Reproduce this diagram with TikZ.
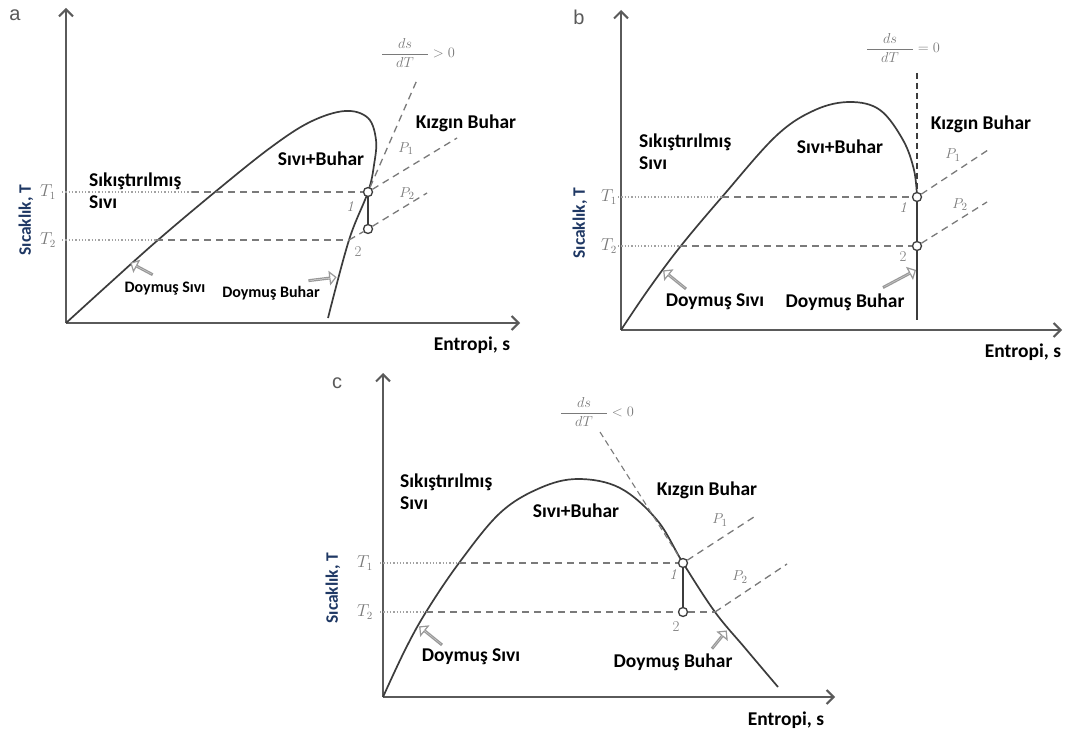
\documentclass[tikz,border=0pt]{standalone}
\usepackage{amsmath}
\usepackage{fontspec}
\usepackage{tikz}
\usetikzlibrary{positioning, arrows.meta, shapes.arrows}
\newfontfamily\labfont{Carlito}
\newfontfamily\tagfont{Liberation Sans}
\definecolor{curvegray}{HTML}{3C3C3C}
\definecolor{axisgray}{HTML}{5A5A5A}
\definecolor{dashgray}{HTML}{7A7A7A}
\definecolor{labgray}{HTML}{7A7A7A}
\definecolor{axisnavy}{HTML}{1F3864}
\tikzset{
  >={Straight Barb[length=7pt,width=14pt]},
  axis/.style={draw=axisgray, line width=2pt, ->},
  dome/.style={draw=curvegray, line width=1.7pt},
  guide/.style={draw=dashgray, line width=1.3pt, dash pattern=on 7pt off 5pt},
  lead/.style={draw=labgray!70, line width=1.3pt, dash pattern=on 1.3pt off 2pt},
  process/.style={draw=curvegray, line width=2.2pt},
  state/.style={circle, draw=curvegray, line width=1.3pt, fill=white, minimum size=9pt, inner sep=0pt},
  region/.style={font=\labfont\bfseries\fontsize{19.5}{22}\selectfont, align=left, inner sep=0pt},
  satlab/.style={font=\labfont\bfseries\fontsize{16}{18}\selectfont, inner sep=0pt},
  ylab/.style={font=\labfont\bfseries\fontsize{17.5}{20}\selectfont, text=axisnavy, rotate=90, inner sep=0pt},
  tag/.style={font=\tagfont\fontsize{20}{22}\selectfont, text=axisgray, inner sep=0pt},
  tlab/.style={text=labgray, font=\fontsize{16}{18}\selectfont, inner sep=0pt},
  numlab/.style={text=labgray, font=\fontsize{15}{17}\selectfont, inner sep=0pt},
  slopelab/.style={text=labgray, font=\fontsize{14}{16}\selectfont, inner sep=0pt},
  hollow/.style={single arrow, draw=gray!80, fill=white, line width=1.2pt, minimum width=12pt, single arrow head extend=3.5pt, inner sep=0pt},
}
\begin{document}
\begin{tikzpicture}[x=1pt, y=-1pt]
\useasboundingbox[fill=white] (0,0) rectangle (1066,733);

% panel a
\coordinate (aO) at (66,323);
\coordinate (aY) at (66,8);
\coordinate (aX) at (520,323);
\draw[axis] (aO) -- (aY);
\draw[axis] (aO) -- (aX);
\draw[dome] plot[smooth, tension=0.6] coordinates {(66,323) (110,283) (158,240) (215,192) (270,148) (310,122) (345,111) (368,118) (376,140) (374,165) (368,192) (349,240) (328,318)};
\node[state] (a1) at (368,192) {};
\node[state] (a2) at (368,229) {};
\node[tlab] (aT1) at (48,192) {$T_1$};
\node[tlab] (aT2) at (48,240) {$T_2$};
\coordinate (aA1) at (62,192);
\coordinate (aA2) at (62,240);
\coordinate (aL1) at (192,192);
\coordinate (aL2) at (156,240);
\coordinate (aV2) at (349,240);
\coordinate (aS) at (417,80);
\coordinate (aP1) at (457,138);
\coordinate (aP2) at (427,193);
\draw[lead] (aA1) -- (aL1);
\draw[lead] (aA2) -- (aL2);
\draw[guide] (aL1) -- (a1);
\draw[guide] (aL2) -- (aV2);
\draw[guide] (a1) -- (aS);
\draw[guide] (a1) -- (aP1);
\draw[guide] (aV2) -- (a2);
\draw[guide] (a2) -- (aP2);
\draw[process] (a1) -- (a2);
\node[numlab] (an1) at (350,207) {\textit{1}};
\node[numlab] (an2) at (358,252) {2};
\node[numlab] (aq1) at (406,149) {$P_1$};
\node[numlab] (aq2) at (407,194) {$P_2$};
\node[slopelab] (aslope) at (418,53) {$\displaystyle\frac{\quad ds\quad}{\quad dT\quad} > 0$};
\node[region, anchor=west] (acomp) at (89,191) {Sıkıştırılmış\\Sıvı};
\node[region] (amix) at (321,159) {Sıvı+Buhar};
\node[region] (asup) at (466,123) {Kızgın Buhar};
\node[satlab] (asl) at (165,289) {Doymuş Sıvı};
\node[satlab] (asv) at (271,293) {Doymuş Buhar};
\node[region] (aent) at (472,345) {Entropi, s};
\node[ylab] (atemp) at (26,220) {Sıcaklık, T};
\node[tag] (atag) at (15,15) {a};
\node[hollow, minimum height=24pt, rotate=152] (asla) at (142,269) {};
\node[hollow, minimum height=27pt, rotate=7] (asva) at (322,279) {};

% panel b
\coordinate (bO) at (621,330);
\coordinate (bY) at (621,10);
\coordinate (bX) at (1062,330);
\draw[axis] (bO) -- (bY);
\draw[axis] (bO) -- (bX);
\draw[dome] plot[smooth, tension=0.6] coordinates {(621,330) (648,290) (680,247) (722,197) (776,136) (815,110) (850,102) (880,110) (903,140) (914,170) (917,197)};
\node[state] (b1) at (917,197) {};
\node[state] (b2) at (917,246) {};
\coordinate (bE) at (917,320);
\draw[dome] (b2) -- (bE);
\node[tlab] (bT1) at (609,197) {$T_1$};
\node[tlab] (bT2) at (609,246) {$T_2$};
\coordinate (bA1) at (618,197);
\coordinate (bA2) at (618,246);
\coordinate (bL1) at (722,197);
\coordinate (bL2) at (680,246);
\coordinate (bS) at (917,73);
\coordinate (bP1) at (988,150);
\coordinate (bP2) at (987,202);
\draw[lead] (bA1) -- (bL1);
\draw[lead] (bA2) -- (bL2);
\draw[guide] (bL1) -- (b1);
\draw[guide] (bL2) -- (b2);
\draw[guide, dash pattern=on 6pt off 4pt, draw=curvegray, line width=1.1pt] (bS) -- (b1);
\draw[guide] (b1) -- (bP1);
\draw[guide] (b2) -- (bP2);
\draw[process] (b1) -- (b2);
\node[numlab] (bn1) at (903,208) {\textit{1}};
\node[numlab] (bn2) at (903,257) {2};
\node[numlab] (bq1) at (953,155) {$P_1$};
\node[numlab] (bq2) at (960,205) {$P_2$};
\node[slopelab] (bslope) at (903,48) {$\displaystyle\frac{\quad ds\quad}{\quad dT\quad} = 0$};
\node[region, anchor=west] (bcomp) at (639,152) {Sıkıştırılmış\\Sıvı};
\node[region] (bmix) at (840,147) {Sıvı+Buhar};
\node[region] (bsup) at (981,124) {Kızgın Buhar};
\node[region] (bsl) at (715,302) {Doymuş Sıvı};
\node[region] (bsv) at (845,302) {Doymuş Buhar};
\node[region] (bent) at (1023,352) {Entropi, s};
\node[ylab] (btemp) at (580,223) {Sıcaklık, T};
\node[tag] (btag) at (579,17) {b};
\node[hollow, minimum height=28pt, rotate=141] (bsla) at (675,280) {};
\node[hollow, minimum height=36pt, rotate=28] (bsva) at (899,279) {};

% panel c
\coordinate (cO) at (383,697);
\coordinate (cY) at (383,373);
\coordinate (cX) at (835,697);
\draw[axis] (cO) -- (cY);
\draw[axis] (cO) -- (cX);
\draw[dome] plot[smooth, tension=0.6] coordinates {(383,697) (405,650) (426,612) (459,563) (500,513) (540,488) (578,479) (620,488) (657,520) (683,563) (715,612) (745,648) (778,687)};
\node[state] (c1) at (683,563) {};
\node[state] (c2) at (683,612) {};
\node[tlab] (cT1) at (365,563) {$T_1$};
\node[tlab] (cT2) at (365,612) {$T_2$};
\coordinate (cA1) at (380,563);
\coordinate (cA2) at (380,612);
\coordinate (cL1) at (459,563);
\coordinate (cL2) at (426,612);
\coordinate (cV2) at (715,612);
\coordinate (cS) at (600,432);
\coordinate (cP1) at (757,515);
\coordinate (cP2) at (787,564);
\draw[lead] (cA1) -- (cL1);
\draw[lead] (cA2) -- (cL2);
\draw[guide] (cL1) -- (c1);
\draw[guide] (cL2) -- (c2);
\draw[guide] (c2) -- (cV2);
\draw[guide, dash pattern=on 6pt off 4pt, line width=1.1pt] (cS) -- (c1);
\draw[guide] (c1) -- (cP1);
\draw[guide] (cV2) -- (cP2);
\draw[process] (c1) -- (c2);
\node[numlab] (cn1) at (673,575) {\textit{1}};
\node[numlab] (cn2) at (676,627) {2};
\node[numlab] (cq1) at (720,520) {$P_1$};
\node[numlab] (cq2) at (740,577) {$P_2$};
\node[slopelab] (cslope) at (597,412) {$\displaystyle\frac{\quad ds\quad}{\quad dT\quad} < 0$};
\node[region, anchor=west] (ccomp) at (400,492) {Sıkıştırılmış\\Sıvı};
\node[region] (cmix) at (576,511) {Sıvı+Buhar};
\node[region] (csup) at (707,490) {Kızgın Buhar};
\node[region] (csl) at (471,657) {Doymuş Sıvı};
\node[region] (csv) at (673,662) {Doymuş Buhar};
\node[region] (cent) at (786,720) {Entropi, s};
\node[ylab] (ctemp) at (333,588) {Sıcaklık, T};
\node[tag] (ctag) at (337,383) {c};
\node[hollow, minimum height=28pt, rotate=141] (csla) at (431,636) {};
\node[hollow, minimum height=22pt, rotate=51] (csva) at (719,640) {};
\end{tikzpicture}
\end{document}
